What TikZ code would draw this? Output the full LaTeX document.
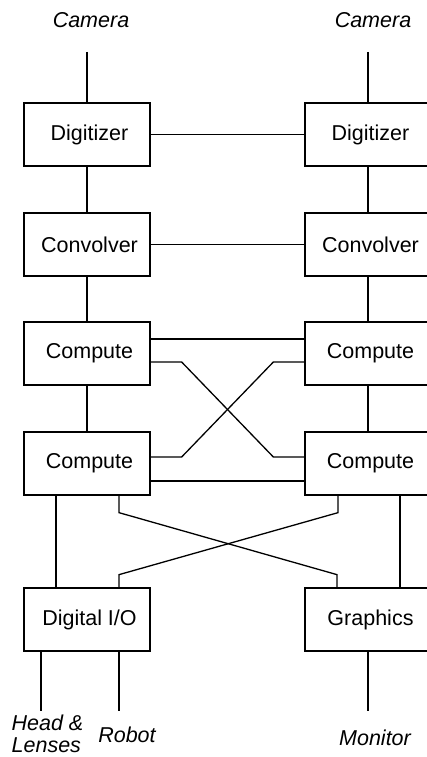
\documentclass[tikz,border=0pt]{standalone}
\usepackage{fontspec}
\setmainfont{Liberation Sans}
\usetikzlibrary{calc}
\usetikzlibrary{positioning}

\begin{document}
\begin{tikzpicture}
  [
    x=1pt, y=-1pt,
    line width=1.3pt,
    every node/.style = {font=\fontsize{21.5}{25}\selectfont},
    unit/.style = {draw, rectangle, minimum width=126pt, minimum height=63pt, inner sep=0pt},
    ext/.style  = {font=\fontsize{21.5}{22}\selectfont\itshape, inner sep=0pt},
  ]

  \useasboundingbox (0,0) rectangle (427,757);
  \clip (0,0) rectangle (427,757);

  % the two columns
  \def\lcol{87}
  \def\rcol{368}

  % boxes
  \node (digL)  at (\lcol,134.5) [unit] {\hspace{5pt}Digitizer};
  \node (digR)  at (\rcol,134.5) [unit] {\hspace{5pt}Digitizer};
  \node (convL) at (\lcol,244.5) [unit] {\hspace{5pt}Convolver};
  \node (convR) at (\rcol,244.5) [unit] {\hspace{5pt}Convolver};
  \node (compLa) at (\lcol,353.5) [unit] {\hspace{5pt}Compute};
  \node (compRa) at (\rcol,353.5) [unit] {\hspace{5pt}Compute};
  \node (compLb) at (\lcol,463.5) [unit] {\hspace{5pt}Compute};
  \node (compRb) at (\rcol,463.5) [unit] {\hspace{5pt}Compute};
  \node (dio)   at (\lcol,619.5) [unit] {\hspace{5pt}Digital I/O};
  \node (gfx)   at (\rcol,619.5) [unit] {\hspace{5pt}Graphics};

  % outside world
  \node (camL) at (91,28)  [ext, anchor=base] {Camera};
  \node (camR) at (373,28) [ext, anchor=base] {Camera};
  \node (head) at (11,752) [ext, anchor=base west, align=left] {Head \&\\Lenses};
  \node (robot) at (127,742) [ext, anchor=base] {Robot};
  \node (mon)  at (375,745) [ext, anchor=base] {Monitor};

  \coordinate (camLin) at (\lcol,52);
  \coordinate (camRin) at (\rcol,52);
  \coordinate (headout) at (41,711);
  \coordinate (robotout) at (119,711);
  \coordinate (monout) at (\rcol,711);

  % video path
  \draw (camLin) -- (digL);
  \draw (camRin) -- (digR);
  \draw (digL) -- (convL) -- (compLa) -- (compLb);
  \draw (digR) -- (convR) -- (compRa) -- (compRb);
  \draw (digL) -- (digR);
  \draw (convL) -- (convR);

  % compute links
  \draw ([yshift=14.5pt]compLa.east) -- ([yshift=14.5pt]compRa.west);
  \draw ([yshift=-17.5pt]compLb.east) -- ([yshift=-17.5pt]compRb.west);
  \draw ([yshift=-8.5pt]compLa.east) -- ++(31,0)
    -- ([xshift=-31pt,yshift=6.5pt]compRb.west) -- ([yshift=6.5pt]compRb.west);
  \draw ([yshift=-8.5pt]compRa.west) -- ++(-31,0)
    -- ([xshift=31pt,yshift=6.5pt]compLb.east) -- ([yshift=6.5pt]compLb.east);

  % down to i/o
  \draw ([xshift=-31pt]compLb.south) -- ([xshift=-31pt]dio.north);
  \draw ([xshift=32pt]compRb.south) -- ([xshift=32pt]gfx.north);
  \draw ([xshift=32pt]compLb.south) -- ++(0,17) -- ++(218,62) -- ([xshift=-31pt]gfx.north);
  \draw ([xshift=-30pt]compRb.south) -- ++(0,17) -- ++(-219,62) -- ([xshift=32pt]dio.north);

  \draw ([xshift=-46pt]dio.south) -- (headout);
  \draw ([xshift=32pt]dio.south) -- (robotout);
  \draw (gfx) -- (monout);

\end{tikzpicture}
\end{document}
